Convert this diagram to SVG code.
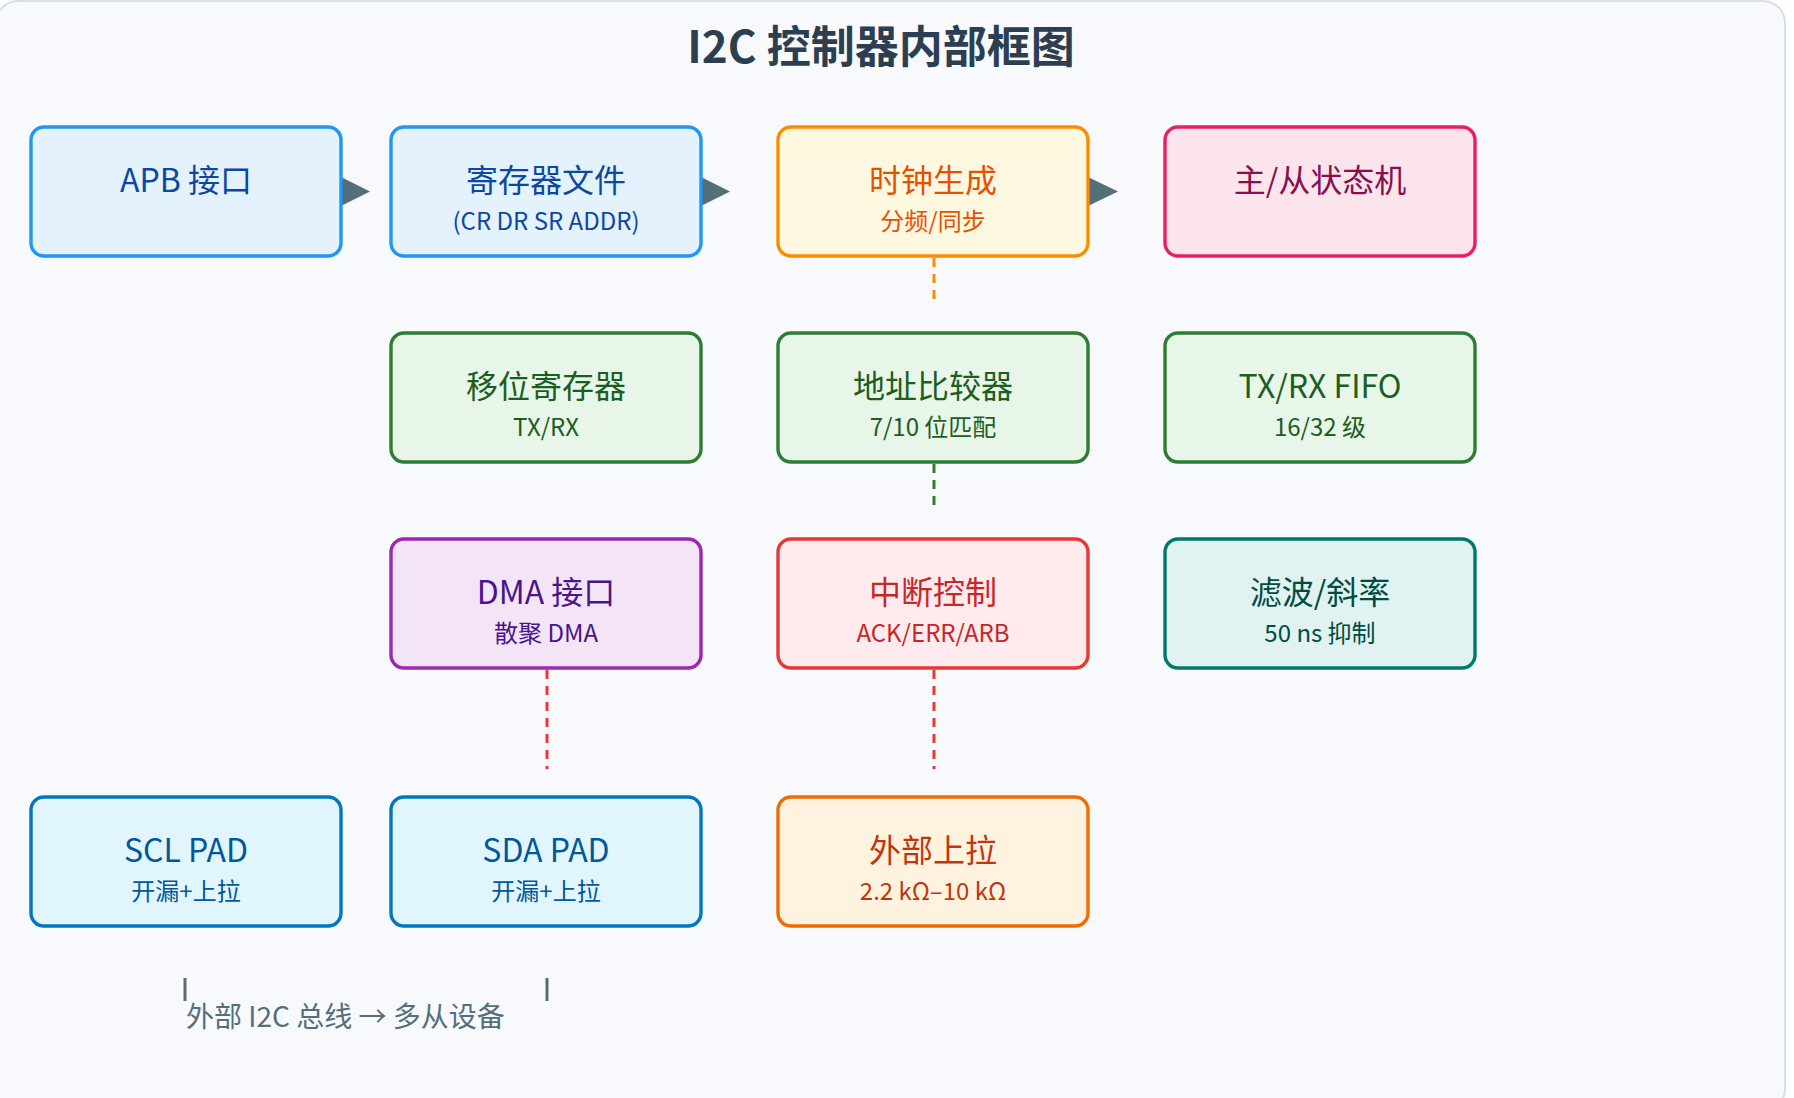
<svg xmlns="http://www.w3.org/2000/svg" width="1794" height="1098" viewBox="0 0 1794 1098">
<style>
text{font-family:"Noto Sans CJK SC","Noto Sans",sans-serif;text-anchor:middle}
.t{font-size:32px}.s{font-size:24px}
.box{stroke-width:3.4}
.b1 rect{fill:#e3f2fd;stroke:#2196f3}.b1 text{fill:#0d47a1}
.ck rect{fill:#fff8e1;stroke:#fb8c00}.ck text{fill:#e65100}
.st rect{fill:#fce4ec;stroke:#e91e63}.st text{fill:#880e4f}
.gr rect{fill:#e8f5e9;stroke:#2e7d32}.gr text{fill:#1b5e20}
.dm rect{fill:#f3e5f5;stroke:#9c27b0}.dm text{fill:#4a148c}
.ir rect{fill:#ffebee;stroke:#e53935}.ir text{fill:#c62828}
.fl rect{fill:#e0f2f1;stroke:#00796b}.fl text{fill:#004d40}
.pd rect{fill:#e1f5fe;stroke:#0277bd}.pd text{fill:#01579b}
.pu rect{fill:#fff3e0;stroke:#ef6c00}.pu text{fill:#bf360c}
.ah{fill:#546e7a}
.ln{stroke:#546e7a;stroke-width:4}
.d{stroke-width:3;stroke-dasharray:9 7;fill:none}
</style>
<rect x="-4" y="1" width="1789" height="1110" rx="22" fill="#f7f9fc" stroke="#d6dee8" stroke-width="2"/>
<text x="881" y="63" style="font-size:44px;font-weight:bold;fill:#2c3e50">I2C 控制器内部框图</text>
<g id="connectors">
<path class="ah" d="M341 177 L370 191.5 L341 206Z"/>
<path class="ah" d="M701 177 L730 191.5 L701 206Z"/>
<path class="ah" d="M1088 177 L1118 191.5 L1088 206Z"/>
<line class="ln" x1="575" y1="398" x2="654" y2="398"/><path class="ah" d="M652 383 L680 398 L652 413Z"/>
<line class="ln" x1="934" y1="398" x2="1014" y2="398"/><path class="ah" d="M1012 383 L1041 398 L1012 413Z"/>
<line class="ln" x1="575" y1="604" x2="654" y2="604"/><path class="ah" d="M652 589 L680 604 L652 619Z"/>
<line class="ln" x1="934" y1="604" x2="1014" y2="604"/><path class="ah" d="M1012 589 L1041 604 L1012 619Z"/>
<line class="d" x1="934" y1="258" x2="934" y2="303" stroke="#fb8c00"/>
<line class="d" x1="934" y1="464" x2="934" y2="509" stroke="#2e7d32"/>
<line class="d" x1="547" y1="670" x2="547" y2="769" stroke="#e53935"/>
<line class="d" x1="934" y1="670" x2="934" y2="769" stroke="#e53935"/>
<line x1="185" y1="978" x2="185" y2="1001" stroke="#546e7a" stroke-width="3"/>
<line x1="547" y1="978" x2="547" y2="1001" stroke="#546e7a" stroke-width="3"/>
</g>
<g id="apb" class="b1"><rect class="box" x="31" y="127" width="310" height="129" rx="13"/><text class="t" x="186" y="192">APB 接口</text></g>
<g id="regfile" class="b1"><rect class="box" x="391" y="127" width="310" height="129" rx="13"/><text class="t" x="546" y="192">寄存器文件</text><text class="s" x="546" y="230">(CR DR SR ADDR)</text></g>
<g id="clock" class="ck"><rect class="box" x="778" y="127" width="310" height="129" rx="13"/><text class="t" x="933" y="192">时钟生成</text><text class="s" x="933" y="230">分频/同步</text></g>
<g id="fsm" class="st"><rect class="box" x="1165" y="127" width="310" height="129" rx="13"/><text class="t" x="1320" y="192">主/从状态机</text></g>
<g id="shift" class="gr"><rect class="box" x="391" y="333" width="310" height="129" rx="13"/><text class="t" x="546" y="398">移位寄存器</text><text class="s" x="546" y="436">TX/RX</text></g>
<g id="addrcmp" class="gr"><rect class="box" x="778" y="333" width="310" height="129" rx="13"/><text class="t" x="933" y="398">地址比较器</text><text class="s" x="933" y="436">7/10 位匹配</text></g>
<g id="fifo" class="gr"><rect class="box" x="1165" y="333" width="310" height="129" rx="13"/><text class="t" x="1320" y="398">TX/RX FIFO</text><text class="s" x="1320" y="436">16/32 级</text></g>
<g id="dma" class="dm"><rect class="box" x="391" y="539" width="310" height="129" rx="13"/><text class="t" x="546" y="604">DMA 接口</text><text class="s" x="546" y="642">散聚 DMA</text></g>
<g id="irq" class="ir"><rect class="box" x="778" y="539" width="310" height="129" rx="13"/><text class="t" x="933" y="604">中断控制</text><text class="s" x="933" y="642">ACK/ERR/ARB</text></g>
<g id="filter" class="fl"><rect class="box" x="1165" y="539" width="310" height="129" rx="13"/><text class="t" x="1320" y="604">滤波/斜率</text><text class="s" x="1320" y="642">50 ns 抑制</text></g>
<g id="scl" class="pd"><rect class="box" x="31" y="797" width="310" height="129" rx="13"/><text class="t" x="186" y="862">SCL PAD</text><text class="s" x="186" y="900">开漏+上拉</text></g>
<g id="sda" class="pd"><rect class="box" x="391" y="797" width="310" height="129" rx="13"/><text class="t" x="546" y="862">SDA PAD</text><text class="s" x="546" y="900">开漏+上拉</text></g>
<g id="pullup" class="pu"><rect class="box" x="778" y="797" width="310" height="129" rx="13"/><text class="t" x="933" y="862">外部上拉</text><text class="s" x="933" y="900">2.2 kΩ–10 kΩ</text></g>
<text x="186" y="1027" style="font-size:28px;fill:#546e7a;text-anchor:start">外部 I2C 总线 → 多从设备</text>
</svg>
